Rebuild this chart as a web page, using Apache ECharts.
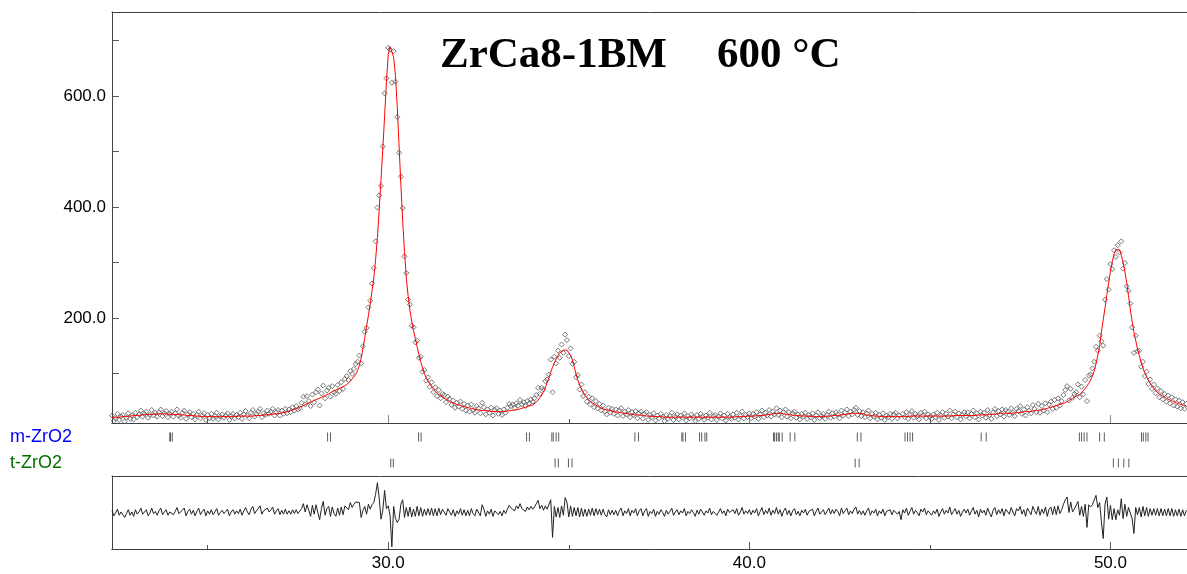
<!DOCTYPE html>
<html><head><meta charset="utf-8">
<script src="https://cdn.jsdelivr.net/npm/echarts@6/dist/echarts.min.js"></script>
<style>html,body{margin:0;padding:0;background:#fff}#c{width:1187px;height:574px}</style>
</head><body><div id="c"></div>
<script>
// 2-theta grid of the scan
const startAngle = 22.35;
const stepAngle = 0.05;

// observed intensities
const yObs = [
24,14,19,27,16,22,25,13,20,28,18,24,17,
29,21,26,33,22,27,31,20,25,34,24,29,22,30,35,23,28,32,21,27,
31,22,28,35,24,20,29,33,18,26,30,21,27,17,25,31,19,24,28,16,
25,19,27,18,23,29,17,22,26,20,24,28,16,23,27,19,25,21,29,18,
26,32,24,19,29,34,22,27,31,36,21,28,25,33,27,31,36,24,30,34,
24,
33,27,36,28,35,30,39,33,41,35,
37,47,58,44,59,50,41,62,48,66,
71,42,64,78,55,69,74,58,77,66,
63,79,68,84,72,90,95,88,104,99,
108,117,121,132,118,149,175,182,219,231,
262,290,338,399,421,438,509,605,632,687,
684,624,681,626,562,498,455,398,311,281,
233,224,186,183,156,159,128,130,103,106,
87,93,76,84,66,75,59,70,55,63,
61,48,58,54,43,51,38,47,40,49,
36,45,33,42,31,44,34,29,41,37,
28,47,39,26,35,29,38,24,34,37,
27,33,25,35,29,38,45,41,44,37,
46,42,52,44,48,41,50,46,53,49,
55,61,74,63,74,71,86,89,98,125,
66,130,118,141,128,152,137,170,160,131,
145,117,121,93,97,71,80,59,66,49,
58,44,55,39,50,37,45,33,42,31,
26,38,29,36,27,35,24,33,37,23,31,26,34,21,30,25,32,19,28,31,
18,27,30,16,25,21,28,15,24,19,27,22,14,25,18,23,29,16,22,26,
17,24,20,28,15,23,19,26,21,14,25,18,27,22,16,24,20,29,17,23,
25,16,22,28,19,24,15,27,21,18,26,20,29,17,23,31,19,25,21,28,
19,27,22,30,18,26,33,21,29,24,34,22,31,26,37,25,33,21,30,35,
22,30,19,28,31,20,26,17,27,22,29,18,25,21,28,16,24,30,19,23,
27,18,25,31,20,28,22,30,26,19,33,24,29,35,23,31,26,34,38,25,
32,23,30,21,28,33,19,27,22,29,17,25,20,28,16,24,21,27,18,26,
29,19,24,9,27,21,30,18,25,32,20,27,23,17,29,24,31,19,26,22,
18,26,21,29,16,24,30,20,27,22,33,19,26,31,21,28,17,25,30,23,
30,19,27,33,21,28,17,31,24,29,20,34,25,18,30,36,23,32,26,35,
22,34,31,25,37,29,23,36,32,41,27,35,24,39,33,28,43,36,30,45,
29,41,33,46,30,44,49,36,52,38,55,42,50,61,70,77,51,72,56,63,
66,80,57,76,62,88,50,96,98,109,
121,148,141,168,158,150,233,270,251,297,
288,322,310,331,318,338,289,299,257,249,
226,183,137,168,140,141,112,121,95,103,
81,89,72,80,64,73,57,68,53,63,
49,60,46,57,42,53,40,51,37,48,
36,45
];

// calculated (refined) profile
const yCalc = [
20,20,20,21,21,21,22,22,22,23,23,23,24,
24,24,25,25,25,26,26,26,26,26,26,27,27,27,27,27,27,27,26,26,
27,26,26,26,26,25,25,25,24,24,24,24,23,23,23,23,23,22,22,22,
22,22,22,22,22,22,22,22,22,22,22,22,22,22,22,22,22,23,23,23,
23,23,23,23,23,23,24,24,24,24,24,25,25,25,26,26,26,27,27,27,
28,
29,30,30,31,32,33,34,35,36,37,
39,40,42,43,45,46,48,49,51,52,
54,55,57,58,60,62,63,65,67,68,
70,71,73,74,76,78,80,83,86,90,
93,98,105,114,127,145,164,185,204,225,
248,272,305,345,395,450,505,565,625,675,
689,686,670,637,580,510,440,375,320,272,
240,214,194,177,163,148,134,121,110,100,
92,86,81,76,72,68,65,62,59,57,
55,53,51,49,48,46,45,44,43,42,
41,40,39,38,37,37,36,35,35,34,
34,33,33,33,32,32,32,31,31,31,
31,31,31,31,31,32,32,33,33,34,
34,35,36,37,38,39,40,41,42,43,
45,48,52,56,61,67,74,83,92,102,
111,119,126,132,137,140,142,143,142,139,
133,124,112,99,88,79,72,66,60,56,
52,49,47,45,43,41,39,38,36,35,
34,33,33,32,31,31,30,30,29,29,28,28,27,27,26,26,25,25,25,24,
24,24,23,23,23,23,22,22,22,22,22,22,21,21,21,21,21,21,21,21,
21,21,21,21,21,21,21,21,21,21,21,21,21,21,21,21,21,21,21,21,
21,21,21,21,21,21,21,21,21,21,21,22,22,22,22,22,22,22,23,23,
23,23,23,23,24,24,24,25,25,26,26,27,27,28,28,28,28,28,27,27,
26,26,25,25,24,24,24,23,23,23,23,23,23,22,22,22,22,22,22,22,
22,22,23,23,23,23,24,24,24,25,25,26,26,27,27,28,28,28,28,28,
28,27,27,26,25,25,24,24,23,23,23,22,22,22,22,22,22,22,22,22,
22,22,22,22,22,22,22,23,23,23,23,23,23,23,23,23,23,23,23,23,
23,23,23,23,23,23,23,23,23,23,23,23,24,24,24,24,24,24,24,24,
24,24,24,24,24,24,25,25,25,25,25,26,26,26,26,27,27,27,28,28,
28,28,28,28,28,28,29,29,29,30,30,30,31,31,31,32,32,33,33,34,
34,35,35,36,37,38,39,40,41,42,43,44,45,46,47,49,51,53,55,57,
59,60,62,65,69,73,77,82,88,95,
104,117,132,150,175,197,218,242,263,284,
301,315,323,326,323,313,300,284,264,240,
216,194,175,159,144,132,120,110,101,94,
88,82,77,73,69,66,63,61,59,57,
55,53,52,50,49,48,46,45,44,43,
42,41
];

// reflection positions (2-theta) of the two phases
const mZrO2Ticks = [23.95,23.97,24.02,28.32,28.40,30.84,30.91,33.83,33.91,34.53,34.57,34.65,34.72,
  36.83,36.93,38.13,38.16,38.23,38.62,38.68,38.77,38.82,40.67,40.70,40.75,40.80,40.83,40.91,
  41.13,41.26,42.99,43.09,44.31,44.38,44.45,44.52,46.42,46.56,49.14,49.20,49.27,49.35,
  49.70,49.83,50.86,50.91,50.98,51.04];
const tZrO2Ticks = [30.07,30.14,34.62,34.71,34.99,35.09,42.93,43.04,50.08,50.22,50.37,50.51];

const xMajorTicks = [30, 40, 50];
const xMinorTicks = [25, 35, 45];
const yMajorTicks = [200, 400, 600];
const yAllTicks = [100, 200, 300, 400, 500, 600, 700];
const phaseNames = ['m-ZrO2', 't-ZrO2'];
const phaseColors = ['#0000ff', '#007000'];
const titleParts = ['ZrCa8-1BM', '600 °C'];

const X_MIN = 22.35, X_MAX = 52.12;
const n = Math.min(yObs.length, yCalc.length);
const xs = [];
for (let i = 0; i < n; i++) xs.push(+(startAngle + i * stepAngle).toFixed(2));
const obsData = xs.map((x, i) => [x, yObs[i]]);
const calcData = xs.map((x, i) => [x, yCalc[i]]);
const diffData = xs.map((x, i) => [x, yObs[i] - yCalc[i]]);

const AX = '#404040';
const LBL = { color: '#000', fontFamily: '"Liberation Sans", Arial, sans-serif', fontSize: 17 };
const baseX = (grid, extra) => Object.assign({
  type: 'value', gridIndex: grid, min: X_MIN, max: X_MAX,
  splitLine: { show: false },
  axisLine: { show: true, onZero: false, lineStyle: { color: AX, width: 1 } },
  axisTick: { show: false }, axisLabel: { show: false }
}, extra);

const chart = echarts.init(document.getElementById('c'), null, { renderer: 'canvas' });
chart.setOption({
  animation: false,
  backgroundColor: '#fff',
  grid: [
    { left: 112, right: 0, top: 12, height: 411 },
    { left: 112, right: 0, top: 424, height: 52 },
    { left: 112, right: 0, top: 476, height: 73 }
  ],
  xAxis: [
    baseX(0, { position: 'bottom', axisTick: { show: true, inside: true, length: 4, customValues: xMinorTicks, lineStyle: { color: '#555' } } }),
    baseX(0, { position: 'bottom', axisTick: { show: true, inside: true, length: 8, customValues: xMajorTicks, lineStyle: { color: '#888' } } }),
    baseX(0, { position: 'top' }),
    baseX(2, { position: 'bottom', axisTick: { show: true, inside: true, length: 4, customValues: xMinorTicks, lineStyle: { color: '#555' } } }),
    baseX(2, { position: 'bottom', axisTick: { show: true, inside: true, length: 7, customValues: xMajorTicks, lineStyle: { color: '#555' } },
      axisLabel: Object.assign({ show: true, customValues: xMajorTicks, margin: 6, formatter: v => v.toFixed(1) }, LBL) }),
    baseX(2, { position: 'top' }),
    baseX(1, { show: false })
  ],
  yAxis: [
    { type: 'value', gridIndex: 0, min: 10.5, max: 751.6, splitLine: { show: false },
      axisLine: { show: true, onZero: false, lineStyle: { color: AX } },
      axisTick: { show: true, inside: true, length: 7, customValues: yAllTicks, lineStyle: { color: '#555' } },
      axisLabel: Object.assign({ show: true, customValues: yMajorTicks, margin: 6, formatter: v => v.toFixed(1) }, LBL) },
    { type: 'value', gridIndex: 1, min: 0, max: 1, show: false },
    { type: 'value', gridIndex: 2, min: -66, max: 66, splitLine: { show: false },
      axisLine: { show: true, onZero: false, lineStyle: { color: AX } },
      axisTick: { show: false }, axisLabel: { show: false } }
  ],
  series: [
    { type: 'scatter', xAxisIndex: 0, yAxisIndex: 0, data: obsData, symbol: 'diamond', symbolSize: 5,
      itemStyle: { color: 'rgba(255,255,255,0)', borderColor: '#555', borderWidth: 1 }, silent: true, z: 2, clip: true },
    { type: 'line', xAxisIndex: 0, yAxisIndex: 0, data: calcData, showSymbol: false, symbol: 'none',
      lineStyle: { color: '#ff0000', width: 1 }, silent: true, z: 3, clip: true },
    { type: 'scatter', xAxisIndex: 6, yAxisIndex: 1, data: mZrO2Ticks.map(v => [v, 0.75]), symbol: 'rect', symbolSize: [1, 9],
      itemStyle: { color: '#333' }, silent: true },
    { type: 'scatter', xAxisIndex: 6, yAxisIndex: 1, data: tZrO2Ticks.map(v => [v, 0.25]), symbol: 'rect', symbolSize: [1, 9],
      itemStyle: { color: '#333' }, silent: true },
    { type: 'line', xAxisIndex: 3, yAxisIndex: 2, data: diffData, showSymbol: false, symbol: 'none',
      lineStyle: { color: '#222', width: 1 }, silent: true, clip: true }
  ],
  graphic: [
    { type: 'text', left: 440, top: 34, style: { text: titleParts[0], font: 'bold 43px "Liberation Serif", "Times New Roman", serif', fill: '#000' } },
    { type: 'text', left: 717, top: 34, style: { text: titleParts[1], font: 'bold 43px "Liberation Serif", "Times New Roman", serif', fill: '#000' } },
    { type: 'text', left: 10, top: 428, style: { text: phaseNames[0], font: '18px "Liberation Sans", Arial, sans-serif', fill: phaseColors[0] } },
    { type: 'text', left: 10, top: 454, style: { text: phaseNames[1], font: '18px "Liberation Sans", Arial, sans-serif', fill: phaseColors[1] } }
  ]
});
</script></body></html>
